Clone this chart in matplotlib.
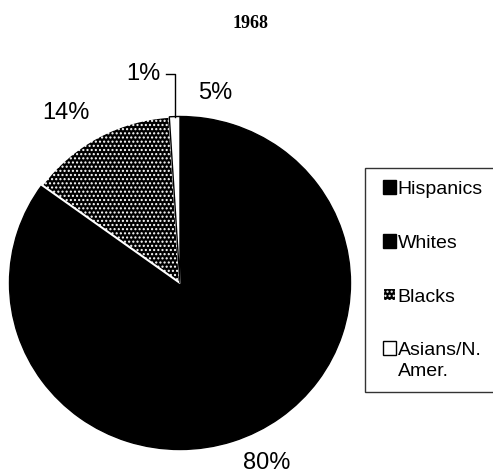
import matplotlib
matplotlib.use("Agg")
import matplotlib.pyplot as plt
import matplotlib.patches as mpatches
from matplotlib.legend_handler import HandlerPatch
import numpy as np

title = "1968"
categories = ["Hispanics", "Whites", "Blacks", "Asians/N.\nAmer."]
values = [5, 80, 14, 1]
pct_labels = ["5%", "80%", "14%", "1%"]
colors = ["black", "black", "black", "white"]

plt.rcParams['font.family'] = ['Liberation Sans', 'DejaVu Sans']
plt.rcParams['hatch.linewidth'] = 1.0

W, H = 493, 474
fig = plt.figure(figsize=(W / 100, H / 100), dpi=100)

# pie axes (slightly wider than tall, as in the scan)
cx, cy, rx, ry = 180, 283, 170.5, 166.5
ax = fig.add_axes([(cx - rx) / W, (H - cy - ry) / H, 2 * rx / W, 2 * ry / H])

wedges, _ = ax.pie(values, colors=colors, startangle=90, counterclock=False,
                   radius=1, wedgeprops=dict(linewidth=1, edgecolor="black"))
ax.set_aspect("auto")
ax.set_xlim(-1, 1)
ax.set_ylim(-1, 1)
ax.axis("off")

# Blacks: black with white speckles
wedges[2].set_edgecolor("white")
wedges[2].set_hatch("....")
wedges[2].set_linewidth(1.5)

# percentage labels
fs = 17
def px(x, y):
    return ((x - cx) / rx, (cy - y) / ry)

ax.text(*px(215, 93), pct_labels[0], fontsize=fs, ha="center", va="center")
ax.text(*px(267, 463), pct_labels[1], fontsize=fs, ha="center", va="center")
ax.text(*px(66, 113), pct_labels[2], fontsize=fs, ha="center", va="center")
ax.text(*px(143, 74), pct_labels[3], fontsize=fs, ha="center", va="center")

# leader line for the 1% slice
theta = np.deg2rad((wedges[3].theta1 + wedges[3].theta2) / 2)
lx = np.cos(theta)
ly = np.sin(theta)
top_y = px(0, 74)[1]
left_x = px(166, 0)[0]
ax.plot([lx, lx, left_x], [ly, top_y, top_y], color="black", lw=1, clip_on=False)

fig.text(251 / W, 1 - 24 / H, title, fontsize=13, fontweight="bold",
         family=["Liberation Serif"], ha="center", va="center")

# legend with small squares
SQ = 9.6  # points

def make_square(shift):
    def f(legend, orig_handle, xdescent, ydescent, width, height, fontsize):
        return mpatches.Rectangle((-xdescent + width - SQ,
                                   -ydescent + (height - SQ) / 2 + shift),
                                  SQ, SQ)
    return f

hmap = {w: HandlerPatch(patch_func=make_square(0)) for w in wedges[:3]}
hmap[wedges[3]] = HandlerPatch(patch_func=make_square(9))

lfs = 14
leg = fig.legend(wedges, categories, loc="upper left",
                 bbox_to_anchor=(365 / W, 1 - 168 / H), borderaxespad=0,
                 fontsize=lfs, frameon=True, fancybox=False, edgecolor="black",
                 handlelength=1.0, handleheight=0.7, handletextpad=0.05,
                 labelspacing=1.87, borderpad=0.62, handler_map=hmap)
leg.get_frame().set_linewidth(1)
leg.get_texts()[3].set_linespacing(1.3)

fig.savefig("out.png", dpi=100)
